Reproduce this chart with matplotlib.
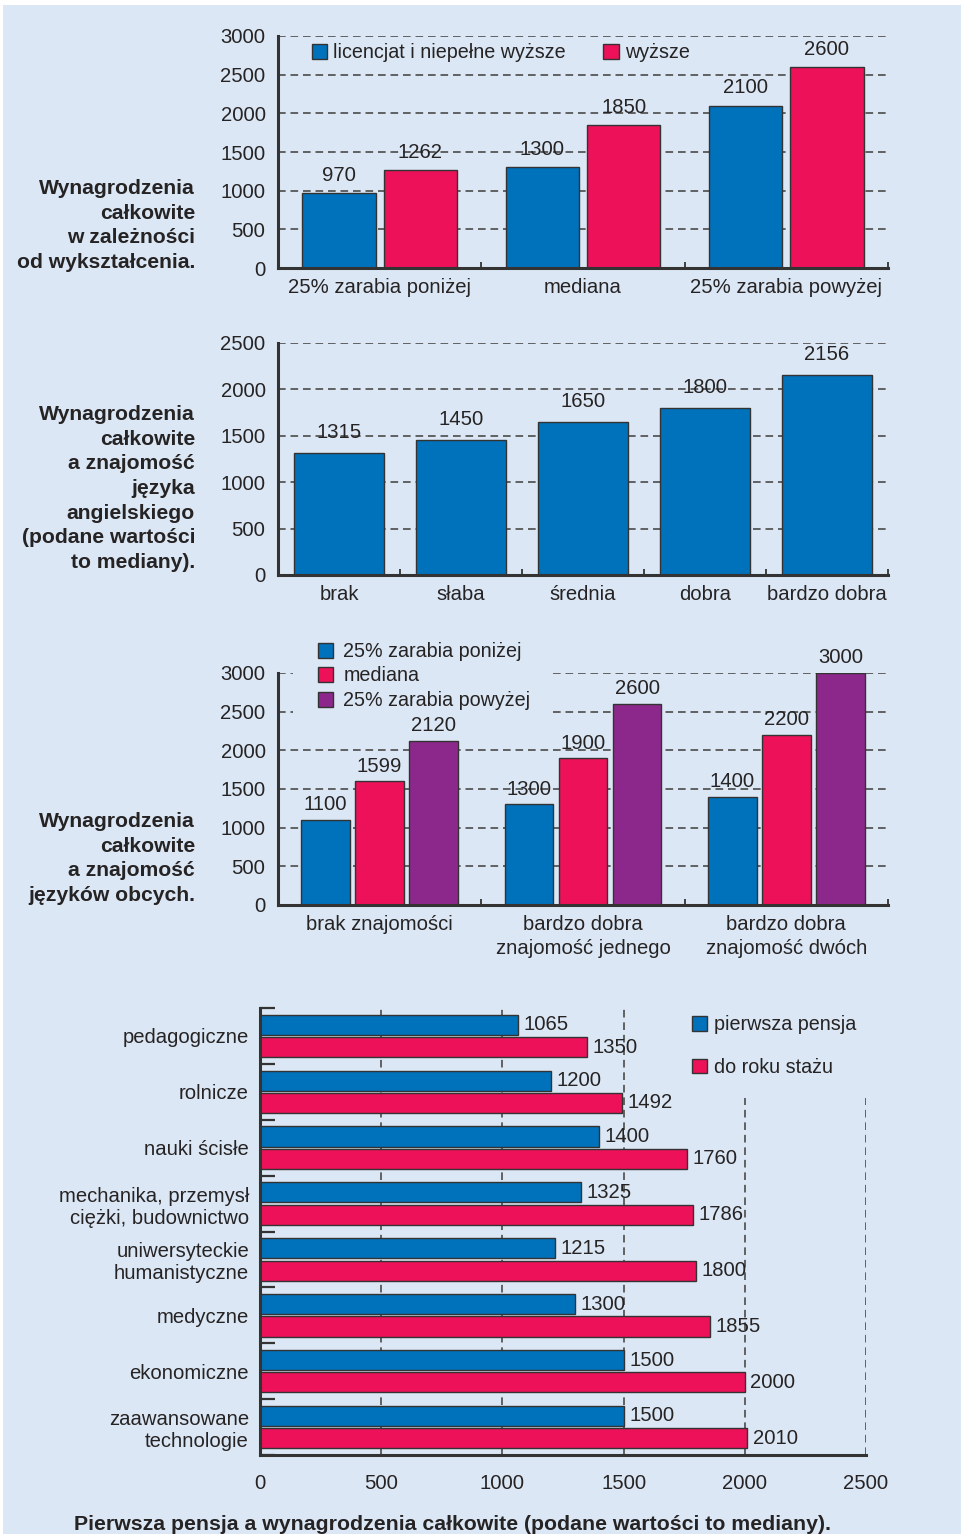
import matplotlib
matplotlib.use("Agg")
import matplotlib.pyplot as plt
from matplotlib.patches import Rectangle
import numpy as np

# ---------------- data ----------------
edu_groups = ["25% zarabia poniżej", "mediana", "25% zarabia powyżej"]
edu_series = ["licencjat i niepełne wyższe", "wyższe"]
edu_licencjat = [970, 1300, 2100]
edu_wyzsze = [1262, 1850, 2600]

eng_levels = ["brak", "słaba", "średnia", "dobra", "bardzo dobra"]
eng_values = [1315, 1450, 1650, 1800, 2156]

lang_groups = ["brak znajomości", "bardzo dobra\nznajomość jednego", "bardzo dobra\nznajomość dwóch"]
lang_series = ["25% zarabia poniżej", "mediana", "25% zarabia powyżej"]
lang_low = [1100, 1300, 1400]
lang_med = [1599, 1900, 2200]
lang_high = [2120, 2600, 3000]

fields = ["pedagogiczne", "rolnicze", "nauki ścisłe", "mechanika, przemysł\nciężki, budownictwo",
          "uniwersyteckie\nhumanistyczne", "medyczne", "ekonomiczne", "zaawansowane\ntechnologie"]
field_series = ["pierwsza pensja", "do roku stażu"]
first_pay = [1065, 1200, 1400, 1325, 1215, 1300, 1500, 1500]
after_year = [1350, 1492, 1760, 1786, 1800, 1855, 2000, 2010]

panel_titles = [
    "Wynagrodzenia\ncałkowite\nw zależności\nod wykształcenia.",
    "Wynagrodzenia\ncałkowite\na znajomość\njęzyka\nangielskiego\n(podane wartości\nto mediany).",
    "Wynagrodzenia\ncałkowite\na znajomość\njęzyków obcych.",
]
bottom_title = "Pierwsza pensja a wynagrodzenia całkowite (podane wartości to mediany)."

# ---------------- style ----------------
BG = "#dbe7f4"
BLUE = "#0071bb"
RED = "#ec1159"
PURPLE = "#8c288b"
TXT = "#262324"
EDGE = "#333333"
GRID = "#4a4a4a"

plt.rcParams["font.family"] = ["Liberation Sans", "DejaVu Sans"]
plt.rcParams["lines.scale_dashes"] = False
TICK_FS = 14.6
LEG_FS = 14.2
BOLD_FS = 15.2

W, H = 961, 1534
fig = plt.figure(figsize=(W / 100, H / 100), dpi=100)
fig.patch.set_facecolor("white")
fig.add_artist(Rectangle((3 / W, 0), 1, 1 - 5 / H, transform=fig.transFigure,
                         facecolor=BG, edgecolor="none", zorder=-10))


def ax_px(left, top, right, bottom):
    ax = fig.add_axes([left / W, 1 - bottom / H, (right - left) / W, (bottom - top) / H])
    ax.set_facecolor("none")
    return ax


DASH = (0, (5.5, 3.5))


def style_vbar_axes(ax, ymax, step, ncat, labels):
    ax.set_xlim(-0.5, ncat - 0.5)
    ax.set_ylim(0, ymax)
    ax.set_yticks(np.arange(0, ymax + 1, step))
    ax.tick_params(axis="y", length=0, pad=9, labelsize=TICK_FS, labelcolor=TXT)
    ax.set_xticks(range(ncat))
    ax.set_xticklabels(labels, linespacing=1.38)
    ax.tick_params(axis="x", length=0, pad=7, labelsize=TICK_FS, labelcolor=TXT)
    ax.set_xticks(np.arange(-0.5, ncat, 1.0), minor=True)
    ax.tick_params(axis="x", which="minor", direction="in", length=4.5, width=1.3, color=EDGE)
    for s in ["top", "right"]:
        ax.spines[s].set_visible(False)
    for s in ["left", "bottom"]:
        ax.spines[s].set_linewidth(2.2)
        ax.spines[s].set_color(EDGE)
    ax.set_axisbelow(True)
    for v in np.arange(step, ymax + 1, step):
        ax.axhline(v, color=GRID, lw=1.2, ls=DASH, zorder=0.5)


bar_kw = dict(edgecolor=EDGE, linewidth=1.0, zorder=2)
lab_kw = dict(fontsize=TICK_FS, color=TXT)

# ---------------- panel 1 ----------------
ax1 = ax_px(278, 36, 888, 268)
x = np.arange(len(edu_groups))
b1 = ax1.bar(x - 0.2, edu_licencjat, 0.36, color=BLUE, label=edu_series[0], **bar_kw)
b2 = ax1.bar(x + 0.2, edu_wyzsze, 0.36, color=RED, label=edu_series[1], **bar_kw)
style_vbar_axes(ax1, 3000, 500, 3, edu_groups)
ax1.bar_label(b1, padding=6, **lab_kw)
ax1.bar_label(b2, padding=6, **lab_kw)
ax1.legend(loc="center left", bbox_to_anchor=(34 / 610, (268 - 53) / 232), ncol=2,
           frameon=False, fontsize=LEG_FS, handlelength=0.78, handleheight=0.78,
           handletextpad=0.3, columnspacing=1.9, borderpad=0, borderaxespad=0,
           labelcolor=TXT)

# ---------------- panel 2 ----------------
ax2 = ax_px(278, 343, 888, 575)
x = np.arange(len(eng_levels))
b = ax2.bar(x, eng_values, 0.73, color=BLUE, **bar_kw)
style_vbar_axes(ax2, 2500, 500, 5, eng_levels)
ax2.bar_label(b, padding=8, **lab_kw)

# ---------------- panel 3 ----------------
ax3 = ax_px(278, 673, 888, 905)
x = np.arange(len(lang_groups))
c1 = ax3.bar(x - 0.266, lang_low, 0.24, color=BLUE, label=lang_series[0], **bar_kw)
c2 = ax3.bar(x, lang_med, 0.24, color=RED, label=lang_series[1], **bar_kw)
c3 = ax3.bar(x + 0.266, lang_high, 0.24, color=PURPLE, label=lang_series[2], **bar_kw)
style_vbar_axes(ax3, 3000, 500, 3, lang_groups)
for c in (c1, c2, c3):
    ax3.bar_label(c, padding=4, **lab_kw)
ax3.add_patch(Rectangle((15 / 610, (905 - 718) / 232), (553 - 293) / 610, 82 / 232,
                        transform=ax3.transAxes, facecolor=BG, edgecolor="none",
                        zorder=0.8, clip_on=False))
ax3.legend(loc="center left", bbox_to_anchor=(40 / 610, (905 - 676) / 232), ncol=1,
           frameon=False, fontsize=LEG_FS, handlelength=0.78, handleheight=0.78,
           handletextpad=0.5, labelspacing=0.28, borderpad=0, borderaxespad=0,
           labelcolor=TXT)

# ---------------- panel 4 ----------------
ax4 = ax_px(260, 1008, 866, 1455)
y = np.arange(len(fields))
h1 = ax4.barh(y - 0.2, first_pay, 0.36, color=BLUE, label=field_series[0], **bar_kw)
h2 = ax4.barh(y + 0.2, after_year, 0.36, color=RED, label=field_series[1], **bar_kw)
ax4.set_xlim(0, 2500)
ax4.set_ylim(len(fields) - 0.5, -0.5)
ax4.set_xticks(np.arange(0, 2501, 500))
ax4.tick_params(axis="x", length=0, pad=14, labelsize=TICK_FS, labelcolor=TXT)
ax4.set_yticks(y)
ax4.set_yticklabels(fields, linespacing=1.2)
ax4.tick_params(axis="y", length=0, pad=8, labelsize=TICK_FS, labelcolor=TXT)
ax4.set_yticks(np.arange(-0.5, len(fields), 1.0), minor=True)
ax4.tick_params(axis="y", which="minor", direction="in", length=11, width=1.6, color=EDGE)
for s in ["top", "right"]:
    ax4.spines[s].set_visible(False)
for s in ["left", "bottom"]:
    ax4.spines[s].set_linewidth(2.2)
    ax4.spines[s].set_color(EDGE)
ax4.set_axisbelow(True)
for v in np.arange(500, 2501, 500):
    ax4.axvline(v, color=GRID, lw=1.2, ls=DASH, zorder=0.5)
ax4.bar_label(h1, padding=4, **lab_kw)
ax4.bar_label(h2, padding=4, **lab_kw)
ax4.add_patch(Rectangle((420 / 606, (1455 - 1098) / 447), 200 / 606, 95 / 447,
                        transform=ax4.transAxes, facecolor=BG, edgecolor="none",
                        zorder=0.8, clip_on=False))
ax4.legend(loc="center left", bbox_to_anchor=(432 / 606, (1455 - 1046) / 447), ncol=1,
           frameon=False, fontsize=LEG_FS, handlelength=0.78, handleheight=0.78,
           handletextpad=0.35, labelspacing=1.2, borderpad=0, borderaxespad=0,
           labelcolor=TXT)

# ---------------- side / bottom titles ----------------
for txt, yc in zip(panel_titles, [225.5, 488.5, 858.5]):
    fig.text(195 / W, 1 - yc / H, txt, ha="right", va="center", multialignment="right",
             fontsize=BOLD_FS, fontweight="bold", color=TXT, linespacing=1.37)

fig.text(453 / W, 1 - 1524 / H, bottom_title, ha="center", va="center",
         fontsize=15.3, fontweight="bold", color=TXT)

fig.savefig("out.png", dpi=100, facecolor=fig.get_facecolor())
